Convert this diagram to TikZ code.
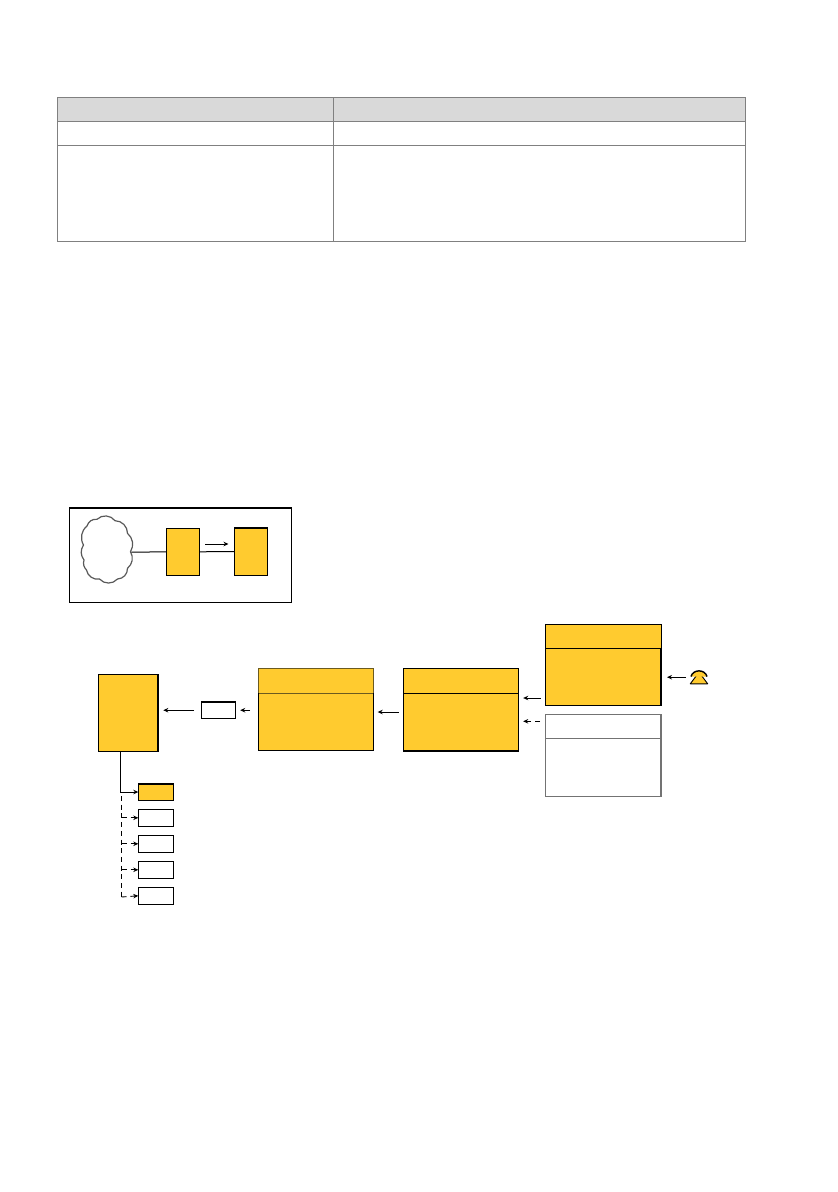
\documentclass[tikz,border=0pt]{standalone}
\usetikzlibrary{arrows.meta}
\definecolor{boxyellow}{HTML}{FFCB2F}
\definecolor{headgray}{HTML}{D9D9D9}
\definecolor{rulegray}{HTML}{808080}
\definecolor{olive}{HTML}{6B5A20}
\tikzset{
  px/.style={x=1pt,y=-1pt},
  cellbox/.style={draw=rulegray,line width=1pt,inner sep=0pt,anchor=north west,outer sep=0pt},
  headcell/.style={cellbox,fill=headgray},
  ybox/.style={draw=black,line width=1pt,fill=boxyellow,inner sep=0pt,anchor=north west,outer sep=0pt},
  wbox/.style={draw=black,line width=1pt,fill=white,inner sep=0pt,anchor=north west,outer sep=0pt},
  gbox/.style={draw=black!55,line width=1.2pt,fill=white,inner sep=0pt,anchor=north west,outer sep=0pt},
  frame/.style={draw=black,line width=1pt,inner sep=0pt,anchor=north west,outer sep=0pt},
  heavy/.style={draw=black,line width=1.8pt},
  arr/.style={draw=black,line width=0.9pt,-{Stealth[length=5pt,width=4.5pt]}},
  darr/.style={arr,dash pattern=on 5pt off 4pt},
  sized/.style 2 args={minimum width=#1pt,minimum height=#2pt},
}
\begin{document}
\begin{tikzpicture}[px]
\useasboundingbox (0,0) rectangle (838,1192);
% table
\node[headcell,sized={276}{24}] (h1) at (57,97.5) {};
\node[headcell,sized={412.5}{24}] (h2) at (333,97.5) {};
\node[cellbox,sized={276}{24}] (c1) at (57,121.5) {};
\node[cellbox,sized={412.5}{24}] (c2) at (333,121.5) {};
\node[cellbox,sized={276}{95.5}] (d1) at (57,145.5) {};
\node[cellbox,sized={412.5}{95.5}] (d2) at (333,145.5) {};
% inset
\node[frame,sized={222}{94.5}] (inset) at (69.3,507.7) {};
\draw[heavy] (inset.north west) -- (inset.north east);
\node[inner sep=0pt,minimum width=50pt,minimum height=68pt,anchor=north west] (cloud) at (81,518) {};
\draw[draw=black!65,line width=1.2pt,line join=round]
  (97,519.3) to[bend left=50] (115,520.7)
  to[bend left=45] (127.5,533.3)
  to[bend left=40] (130.5,551.7)
  to[bend left=40] (127.5,568.3)
  to[bend left=45] (117.5,579)
  to[bend left=50] (99.5,579)
  to[bend left=45] (86.5,570)
  to[bend left=30] (84,560)
  to[bend left=35] (83.5,545)
  to[bend left=40] (87,526)
  to[bend left=40] cycle;
\node[ybox,sized={33.4}{47}] (mid) at (166.3,528.3) {};
\node[ybox,sized={33}{47.6}] (right) at (234.3,527.7) {};
\draw[heavy] (right.north west) -- (right.north east);
\draw[line width=1pt] (cloud.east) -- (mid.west);
\draw[line width=1pt] (mid.east) -- (right.west);
\coordinate (flowa) at (205,544);
\coordinate (flowb) at (228.5,544);
\draw[arr] (flowa) -- (flowb);
% main chain
\node[ybox,sized={60}{77}] (big) at (98.3,674.3) {};
\draw[heavy] (big.north east) -- (big.south east);
\node[wbox,sized={34.4}{17}] (small) at (201.3,701.7) {};
\draw[heavy] (small.north west) -- (small.north east);
\node[ybox,draw=olive,sized={115.4}{81.6}] (boxc) at (258.3,668.7) {};
\draw[draw=olive,line width=1pt] (258.3,693) -- (373.7,693);
\draw[line width=1pt] (258.3,693) -- (boxc.south west) -- (boxc.south east) -- (373.7,693);
\node[ybox,sized={115.4}{83}] (boxd) at (403.3,668) {};
\draw[line width=1pt] (403.3,693.3) -- (518.7,693.3);
\draw[heavy] (boxd.south west) -- (boxd.south east);
\node[ybox,sized={115.3}{81.3}] (boxe) at (545.7,624) {};
\draw[line width=1pt] (545.7,648.3) -- (661,648.3);
\draw[heavy] (661,648.3) -- (boxe.south east);
\node[gbox,sized={115.3}{81.6}] (boxf) at (545.7,714.7) {};
\draw[draw=black!55,line width=1.2pt] (545.7,738.7) -- (661,738.7);
% phone
\node[inner sep=0pt,minimum width=18pt,minimum height=14pt,anchor=north west] (phone) at (690,670) {};
\fill[boxyellow,draw=black,line width=0.9pt,line join=round] (696.5,675.5) -- (701.5,675.5) -- (707.7,683.8) -- (690.3,683.8) -- cycle;
\draw[black,line width=1.4pt,fill=boxyellow] (691,676.5) .. controls (693,669) and (705,669) .. (707,676.5);
% arrows
\draw[arr,shorten <=4pt,shorten >=6pt] (phone.west) -- (boxe.east |- phone.west);
\draw[arr,shorten <=5pt,shorten >=4.5pt] (boxe.west |- 0,698) -- (boxd.east |- 0,698);
\draw[darr,shorten <=5.5pt,shorten >=4.5pt] (boxf.west |- 0,721.3) -- (boxd.east |- 0,721.3);
\draw[arr,shorten <=4.6pt,shorten >=4pt] (boxd.west |- 0,712) -- (boxc.east |- 0,712);
\draw[arr,shorten <=8.3pt,shorten >=4.5pt] (boxc.west |- small.west) -- (small.east);
\draw[arr,shorten <=7.3pt,shorten >=5pt] (small.west) -- (big.east |- small.west);
% output list
\node[ybox,sized={35.4}{16.6}] (o1) at (138.3,783.7) {};
\draw[heavy] (o1.north west) -- (o1.north east);
\node[wbox,sized={35.4}{17}] (o2) at (138.3,809.3) {};
\node[wbox,sized={35.4}{17}] (o3) at (138.3,835.3) {};
\node[wbox,sized={35.4}{17}] (o4) at (138.3,861.3) {};
\node[wbox,sized={35.4}{17}] (o5) at (138.3,887.3) {};
\coordinate (trunk) at (120.7,792);
\coordinate (dashtop) at (121.5,796);
\coordinate (dashend) at (121.5,897);
\draw[arr] (trunk |- big.south) -- (trunk) -- (o1.west);
\draw[draw=black,line width=0.9pt,dash pattern=on 5pt off 3.7pt] (dashtop) -- (dashend);
\draw[darr] (dashtop |- o2.west) -- (o2.west);
\draw[darr] (dashtop |- o3.west) -- (o3.west);
\draw[darr] (dashtop |- o4.west) -- (o4.west);
\draw[darr] (dashend) -- (o5.west);
\end{tikzpicture}
\end{document}
